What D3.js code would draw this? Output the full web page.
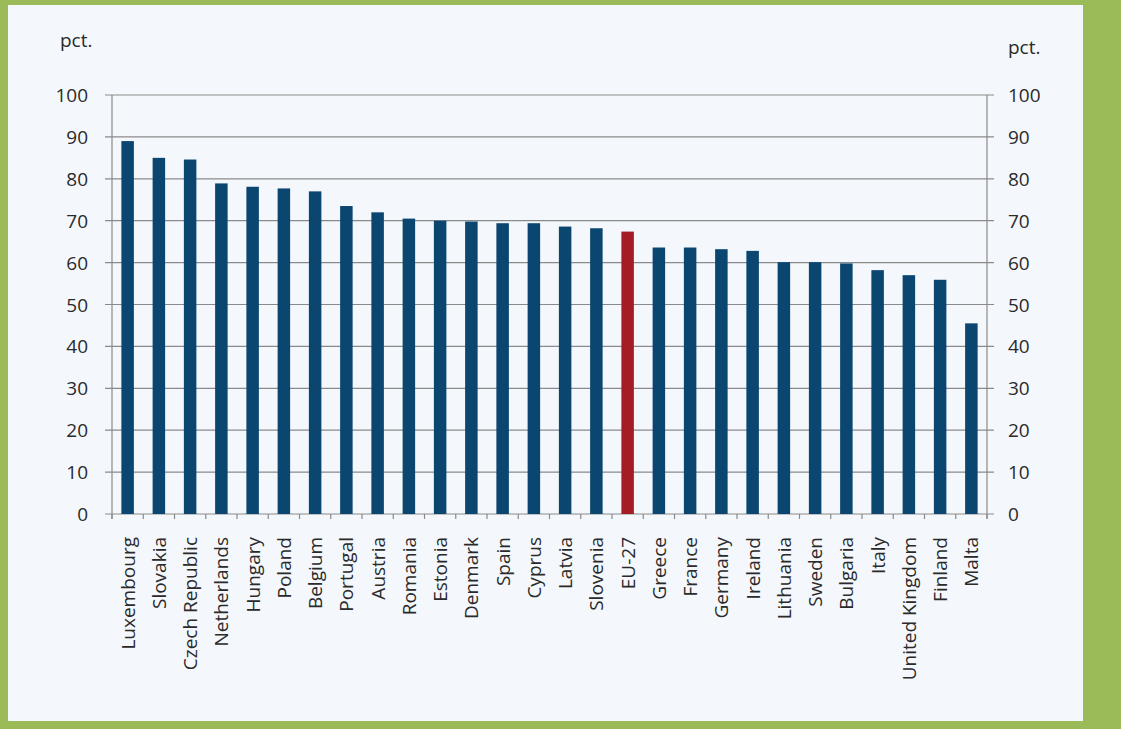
<!DOCTYPE html>
<html>
<head>
<meta charset="utf-8">
<script src="https://cdn.jsdelivr.net/npm/d3@7"></script>
<style>
  html, body { margin: 0; padding: 0; background: #9bbb59; }
  svg { display: block; }
  text { font-family: "Open Sans", sans-serif; fill: #2a2a2a; }
</style>
</head>
<body>
<div class="svg-container"></div>
<script>
// data
const countries = ['Luxembourg', 'Slovakia', 'Czech Republic', 'Netherlands', 'Hungary', 'Poland',
  'Belgium', 'Portugal', 'Austria', 'Romania', 'Estonia', 'Denmark', 'Spain', 'Cyprus', 'Latvia',
  'Slovenia', 'EU-27', 'Greece', 'France', 'Germany', 'Ireland', 'Lithuania', 'Sweden', 'Bulgaria',
  'Italy', 'United Kingdom', 'Finland', 'Malta'];
const values = [89, 85, 84.6, 78.9, 78.1, 77.7, 77, 73.5, 72, 70.5, 70, 69.8, 69.4, 69.4, 68.6,
  68.2, 67.4, 63.6, 63.6, 63.2, 62.8, 60.1, 60.1, 59.8, 58.2, 57, 55.9, 45.5];
const yTicks = [0, 10, 20, 30, 40, 50, 60, 70, 80, 90, 100];
const highlight = 'EU-27';

// dimensions
const width = 1121;
const height = 729;
const plot = { left: 112, right: 987, top: 95, bottom: 514 };
const fontSize = '19px';

const svg = d3.select('.svg-container')
  .append('svg')
  .attr('width', width)
  .attr('height', height);

// white panel
svg.append('rect')
  .attr('x', 8)
  .attr('y', 5)
  .attr('width', 1075)
  .attr('height', 716)
  .attr('fill', '#f4f8fc');

const x = d3.scaleBand()
  .domain(countries)
  .range([plot.left, plot.right])
  .paddingInner(0.6)
  .paddingOuter(0.3);

const y = d3.scaleLinear()
  .domain([0, 100])
  .range([plot.bottom, plot.top]);

// gridlines
svg.append('g')
  .selectAll('line')
  .data(yTicks)
  .enter()
  .append('line')
  .attr('x1', plot.left - 7)
  .attr('x2', plot.right + 7)
  .attr('y1', d => y(d))
  .attr('y2', d => y(d))
  .attr('stroke', '#8a8a8a')
  .attr('stroke-width', 1.2);

// vertical axis lines
[plot.left, plot.right].forEach(px => {
  svg.append('line')
    .attr('x1', px).attr('x2', px)
    .attr('y1', plot.top).attr('y2', plot.bottom + 5)
    .attr('stroke', '#8a8a8a')
    .attr('stroke-width', 1.2);
});

// category ticks
const step = x.step();
svg.append('g')
  .selectAll('line')
  .data(d3.range(countries.length + 1))
  .enter()
  .append('line')
  .attr('x1', i => plot.left + i * step)
  .attr('x2', i => plot.left + i * step)
  .attr('y1', plot.bottom)
  .attr('y2', plot.bottom + 5)
  .attr('stroke', '#8a8a8a')
  .attr('stroke-width', 1.2);

// bars
svg.append('g')
  .selectAll('rect')
  .data(countries)
  .enter()
  .append('rect')
  .attr('x', d => x(d))
  .attr('y', (d, i) => y(values[i]))
  .attr('width', x.bandwidth())
  .attr('height', (d, i) => y(0) - y(values[i]))
  .attr('fill', d => d === highlight ? '#a51d24' : '#0a4670');

// y labels
svg.append('g')
  .selectAll('text')
  .data(yTicks)
  .enter()
  .append('text')
  .attr('x', 88)
  .attr('y', d => y(d) + 7)
  .attr('text-anchor', 'end')
  .style('font-size', fontSize)
  .text(d => d);

svg.append('g')
  .selectAll('text')
  .data(yTicks)
  .enter()
  .append('text')
  .attr('x', 1008)
  .attr('y', d => y(d) + 7)
  .style('font-size', fontSize)
  .text(d => d);

// units
svg.append('text')
  .attr('x', 60).attr('y', 47)
  .style('font-size', fontSize)
  .text('pct.');
svg.append('text')
  .attr('x', 1008).attr('y', 54)
  .style('font-size', fontSize)
  .text('pct.');

// category labels
svg.append('g')
  .selectAll('text')
  .data(countries)
  .enter()
  .append('text')
  .attr('transform', d => `translate(${x(d) + x.bandwidth() / 2 + 7},${plot.bottom + 23}) rotate(-90)`)
  .attr('text-anchor', 'end')
  .style('font-size', fontSize)
  .text(d => d);
</script>
</body>
</html>
